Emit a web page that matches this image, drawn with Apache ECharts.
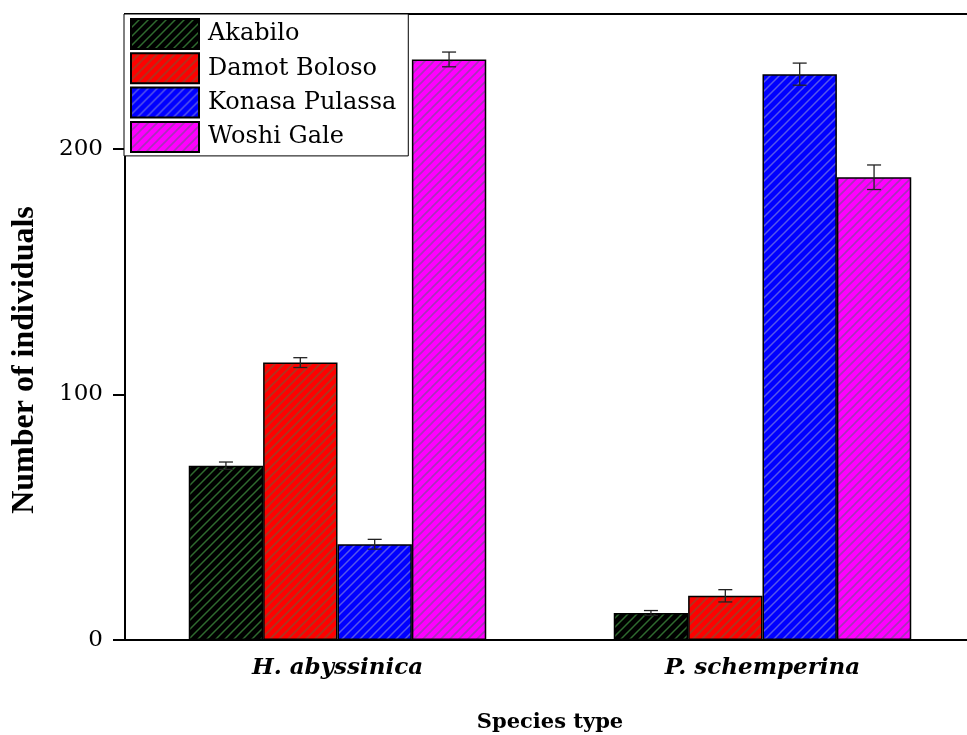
<!DOCTYPE html>
<html>
<head>
<meta charset="utf-8">
<script src="https://cdn.jsdelivr.net/npm/echarts@6/dist/echarts.min.js"></script>
<style>html,body{margin:0;padding:0;background:#fff}#c{width:967px;height:735px}</style>
</head>
<body>
<div id="c"></div>
<script>
// ---- data ----
const categories = ['H. abyssinica', 'P. schemperina'];
const seriesNames = ['Akabilo', 'Damot Boloso', 'Konasa Pulassa', 'Woshi Gale'];
const akabilo = [71, 11];
const damotBoloso = [113, 18];
const konasaPulassa = [39, 230.5];
const woshiGale = [236.5, 188.5];
const akabiloErr = [1.5, 1];
const damotBolosoErr = [2, 2.5];
const konasaPulassaErr = [2, 4.5];
const woshiGaleErr = [3, 5];
const yTicks = [0, 100, 200];

const values = [akabilo, damotBoloso, konasaPulassa, woshiGale];
const errors = [akabiloErr, damotBolosoErr, konasaPulassaErr, woshiGaleErr];

// ---- styles ----
const fills = ['#000000', '#ff0000', '#0000ff', '#ff00ff'];
const hatchColors = ['#2f6a2f', '#b4301c', '#5656ea', '#a832b8'];
const hatchWidths = [1.5, 2, 1.5, 1.6];

function makePattern(bg, line, lw) {
  const n = 9;
  const c = document.createElement('canvas');
  c.width = n; c.height = n;
  const g = c.getContext('2d');
  g.fillStyle = bg; g.fillRect(0, 0, n, n);
  g.strokeStyle = line; g.lineWidth = lw;
  g.beginPath();
  g.moveTo(0, n); g.lineTo(n, 0);
  g.moveTo(-2, 2); g.lineTo(2, -2);
  g.moveTo(n - 2, n + 2); g.lineTo(n + 2, n - 2);
  g.stroke();
  return { image: c, repeat: 'repeat' };
}

const barWidthFrac = 0.175;

const barSeries = seriesNames.map((name, i) => ({
  name: name,
  type: 'bar',
  data: values[i],
  barWidth: (barWidthFrac * 100) + '%',
  barGap: '0%',
  itemStyle: { color: makePattern(fills[i], hatchColors[i], hatchWidths[i]), borderColor: '#000', borderWidth: 1.5 },
  z: 2
}));

const errData = [];
values.forEach((arr, s) => arr.forEach((v, c) => errData.push([c, v, errors[s][c], s])));

const errSeries = {
  type: 'custom',
  data: errData,
  encode: { x: 0, y: 1 },
  z: 5,
  silent: true,
  renderItem: function (params, api) {
    const c = api.value(0), v = api.value(1), e = api.value(2), s = api.value(3);
    const band = api.size([1, 0])[0];
    const bw = band * barWidthFrac;
    const center = api.coord([c, v]);
    const x = center[0] + (s - 1.5) * bw;
    const yTop = api.coord([c, v + e])[1];
    const yBot = api.coord([c, v - e])[1];
    const cap = 7;
    const st = { stroke: '#222', lineWidth: 1.3 };
    return {
      type: 'group',
      children: [
        { type: 'line', shape: { x1: x, y1: yTop, x2: x, y2: yBot }, style: st },
        { type: 'line', shape: { x1: x - cap, y1: yTop, x2: x + cap, y2: yTop }, style: st },
        { type: 'line', shape: { x1: x - cap, y1: yBot, x2: x + cap, y2: yBot }, style: st }
      ]
    };
  }
};

const chart = echarts.init(document.getElementById('c'), null, { renderer: 'canvas' });
chart.setOption({
  backgroundColor: '#fff',
  animation: false,
  grid: { left: 125, top: 14, right: -8, bottom: 95, outerBoundsMode: 'none', containLabel: false,
    show: true, borderColor: '#000', borderWidth: 2, backgroundColor: 'transparent' },
  legend: {
    data: seriesNames,
    orient: 'vertical',
    left: 124, top: 14,
    backgroundColor: '#fff',
    borderColor: '#000', borderWidth: 1,
    padding: [4, 12, 3, 6],
    icon: 'rect',
    itemWidth: 68, itemHeight: 30, itemGap: 2.3,
    textStyle: { fontFamily: 'DejaVu Serif', fontSize: 24, lineHeight: 30, color: '#000', padding: [0, 0, 0, 4] },
    z: 10
  },
  xAxis: {
    type: 'category',
    data: categories,
    name: 'Species type',
    nameLocation: 'middle',
    nameGap: 72,
    nameTextStyle: { fontFamily: 'DejaVu Serif', fontWeight: 'bold', fontSize: 21, color: '#000' },
    axisLine: { lineStyle: { color: '#000', width: 2 } },
    axisTick: { alignWithLabel: true, length: 11, lineStyle: { color: '#000', width: 2 } },
    axisLabel: { margin: 17, fontFamily: 'DejaVu Serif', fontStyle: 'italic', fontWeight: 'bold', fontSize: 23, color: '#000' },
    splitLine: { show: false }
  },
  yAxis: {
    type: 'value',
    min: 0, max: 255, interval: 100,
    name: 'Number of individuals',
    nameLocation: 'middle',
    nameGap: 84,
    nameTextStyle: { fontFamily: 'Liberation Serif', fontWeight: 'bold', fontSize: 32, color: '#000', padding: [0, 66, 0, 0] },
    axisLine: { show: true, lineStyle: { color: '#000', width: 2 } },
    axisTick: { show: true, length: 12, lineStyle: { color: '#000', width: 2 } },
    axisLabel: { margin: 22, fontFamily: 'DejaVu Serif', fontSize: 23, color: '#000', showMaxLabel: false,
      formatter: v => (yTicks.indexOf(v) >= 0 ? String(v) : '') },
    splitLine: { show: false }
  },
  series: barSeries.concat([errSeries])
});
</script>
</body>
</html>
